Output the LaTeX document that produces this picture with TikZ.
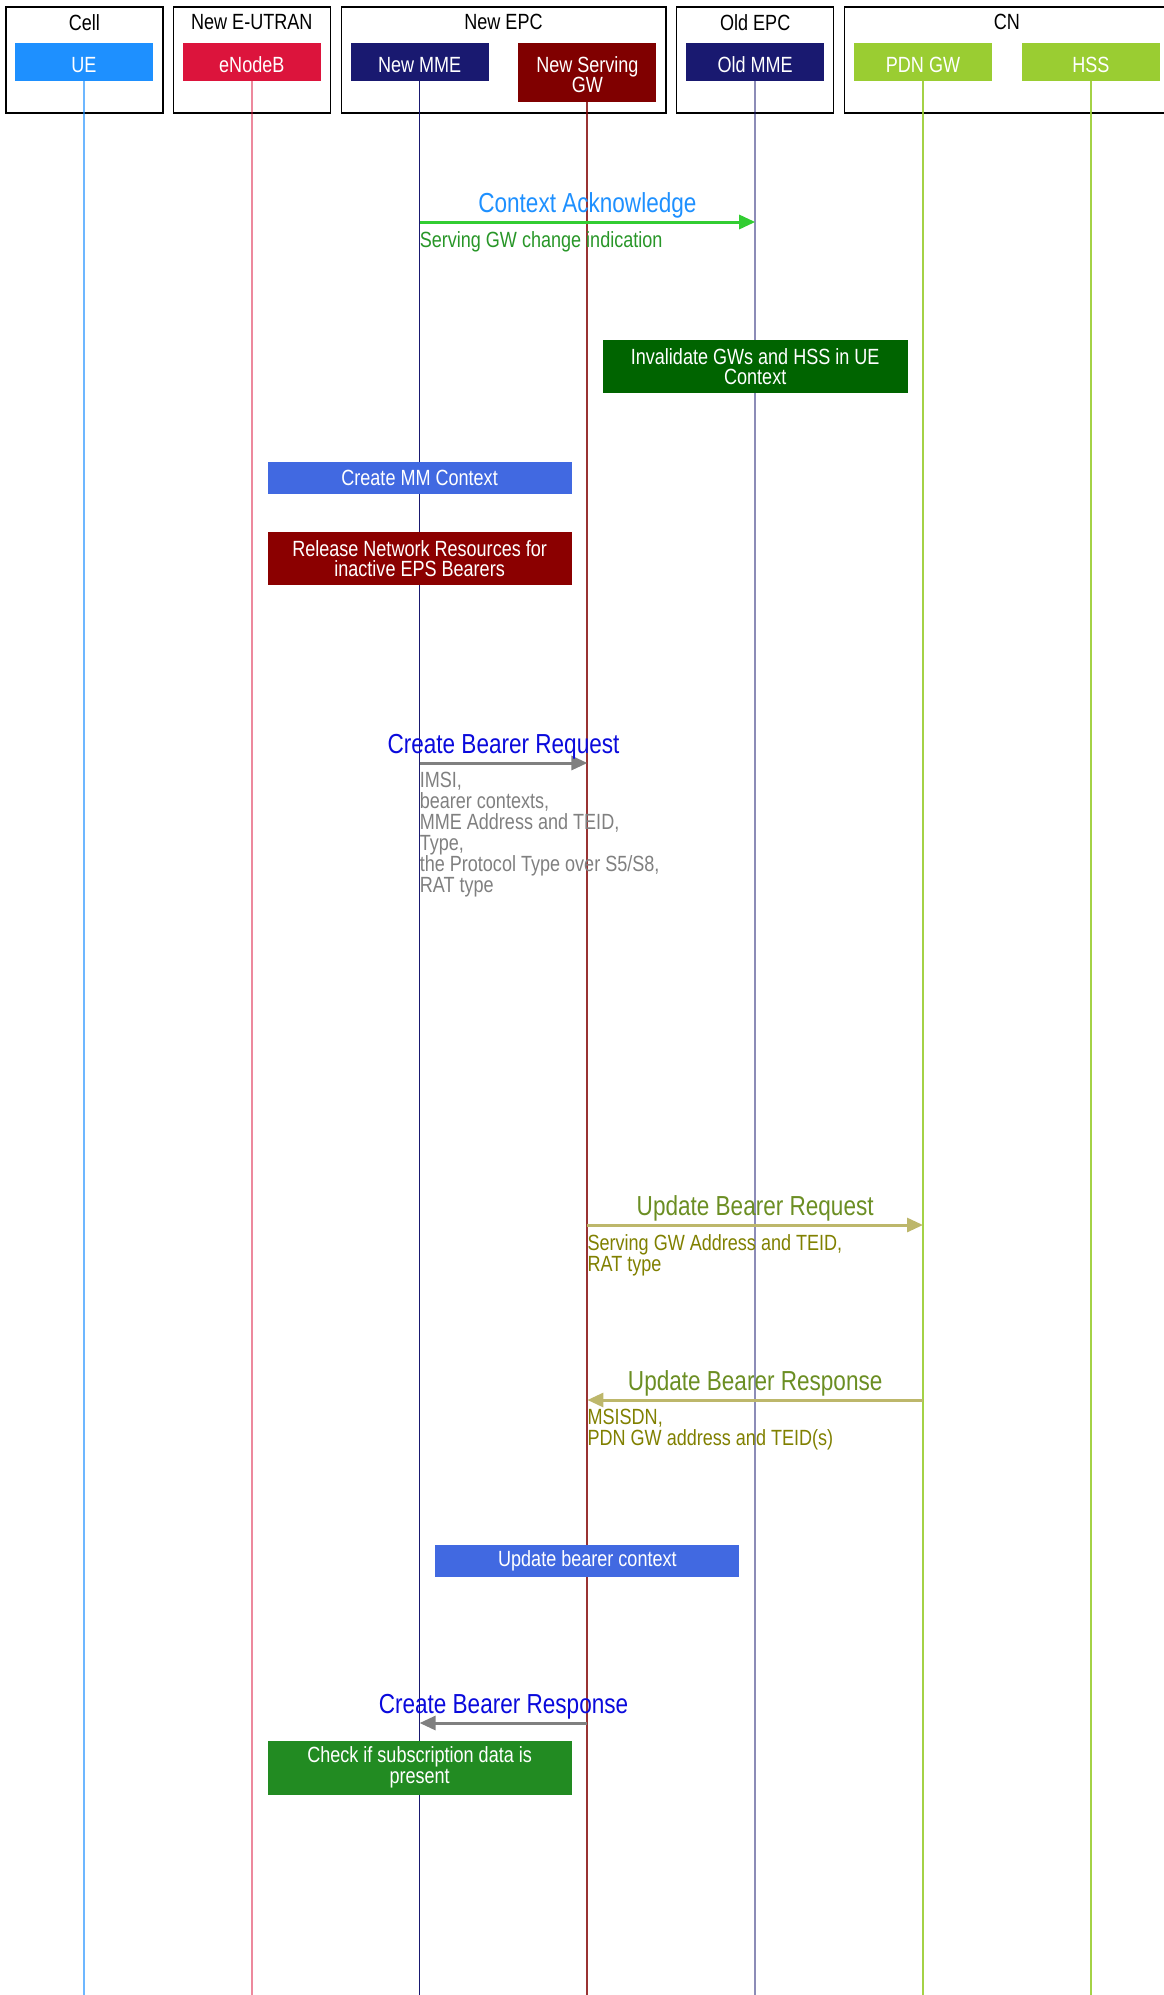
\documentclass[tikz,border=0pt]{standalone}
\usepackage{fontspec}
\setmainfont{Liberation Sans}[FakeStretch=0.82]
\usepackage{tikz}
\usetikzlibrary{arrows.meta, positioning}
\definecolor{azulUE}{RGB}{30,144,255}
\definecolor{carmim}{RGB}{220,20,60}
\definecolor{marinho}{RGB}{25,25,112}
\definecolor{bordo}{RGB}{128,0,0}
\definecolor{verdeAm}{RGB}{154,205,50}
\definecolor{verdeEsc}{RGB}{0,100,0}
\definecolor{verdeFl}{RGB}{34,139,34}
\definecolor{verdeTxt}{RGB}{40,150,40}
\definecolor{verdeLima}{RGB}{50,205,50}
\definecolor{azulReal}{RGB}{65,105,225}
\definecolor{azulMed}{RGB}{10,10,220}
\definecolor{vermEsc}{RGB}{139,0,0}
\definecolor{cinza}{RGB}{128,128,128}
\definecolor{oliva}{RGB}{128,128,0}
\definecolor{olivaEsc}{RGB}{107,142,35}
\definecolor{caqui}{RGB}{189,183,107}

\begin{document}
\begin{tikzpicture}[x=1pt, y=-1pt,
    grupo/.style={draw=black, line width=1.2pt, minimum height=106pt, minimum width=157pt},
    rotulo/.style={font=\fontsize{22}{24}\selectfont, inner sep=2pt},
    ator/.style={text=white, minimum width=138pt, minimum height=38pt, align=center, font=\fontsize{22}{20.5}\selectfont, inner sep=2pt, text height=20pt, text depth=0pt},
    vida/.style={line width=2pt},
    caixa/.style={text=white, minimum width=304pt, minimum height=32pt, align=center, font=\fontsize{22}{20.5}\selectfont, inner sep=2pt},
    titulo/.style={font=\fontsize{27.5}{30}\selectfont, inner sep=2pt},
    corpo/.style={font=\fontsize{22}{21}\selectfont, align=left, inner xsep=0pt, inner ysep=2pt},
    seta/.style={line width=3pt, -{Triangle[length=16pt, width=14pt]}}
  ]
    \clip (0,0) rectangle (1164,1995);
    % grupos
    \node[grupo] (gcell) at (84.4,60) {};
    \node[grupo] (geutran) at (251.8,60) {};
    \node[grupo, minimum width=324.8pt] (gnovo) at (503.5,60) {};
    \node[grupo] (gvelho) at (755.2,60) {};
    \node[grupo, minimum width=324.8pt] (gcn) at (1006.9,60) {};
    \node[rotulo, below=5.5pt of gcell.north] (lcell) {Cell};
    \node[rotulo, below=5.5pt of geutran.north] (leutran) {New E-UTRAN};
    \node[rotulo, below=5.5pt of gnovo.north] (lnovo) {New EPC};
    \node[rotulo, below=5.5pt of gvelho.north] (lvelho) {Old EPC};
    \node[rotulo, below=5.5pt of gcn.north] (lcn) {CN};
    % participantes
    \node[ator, fill=azulUE] (ue) at (84,62) {UE};
    \node[ator, fill=carmim] (enb) at (251.8,62) {eNodeB};
    \node[ator, fill=marinho] (mme) at (419.6,62) {New MME};
    \node[ator, fill=bordo, minimum height=59pt, text height=40.5pt] (sgw) at (587.4,72.5) {New Serving\\GW};
    \node[ator, fill=marinho] (oldmme) at (755.2,62) {Old MME};
    \node[ator, fill=verdeAm] (pgw) at (923,62) {PDN GW};
    \node[ator, fill=verdeAm] (hss) at (1090.8,62) {HSS};
    % linhas de vida
    \coordinate (fim) at (0,1995);
    \draw[vida, azulUE, opacity=0.65] (ue) -- (ue |- fim);
    \draw[vida, carmim, opacity=0.5] (enb) -- (enb |- fim);
    \draw[vida, marinho, line width=1.6pt] (mme) -- (mme |- fim);
    \draw[vida, bordo, opacity=0.8] (sgw) -- (sgw |- fim);
    \draw[vida, marinho, opacity=0.5] (oldmme) -- (oldmme |- fim);
    \draw[vida, verdeAm, opacity=0.9, line width=1.6pt] (pgw) -- (pgw |- fim);
    \draw[vida, verdeAm, opacity=0.9, line width=1.6pt] (hss) -- (hss |- fim);
    % caixas
    \node[caixa, fill=verdeEsc, minimum height=53pt, minimum width=305pt] (inval) at (755.2,366.5) {Invalidate GWs and HSS in UE\\Context};
    \node[caixa, fill=azulReal] (mmctx) at (419.6,478) {Create MM Context};
    \node[caixa, fill=vermEsc, minimum height=53pt] (liberar) at (419.6,558.5) {Release Network Resources for\\inactive EPS Bearers};
    \node[caixa, fill=azulReal] (atualizar) at (587.4,1561) {Update bearer context};
    \node[caixa, fill=verdeFl, minimum height=54pt] (verificar) at (419.6,1767.5) {Check if subscription data is\\present};
    % mensagens
    \coordinate (m1) at (0,222);
    \draw[seta, verdeLima] (mme |- m1) coordinate (m1e) -- node[titulo, above, text=azulUE] (t1) {Context Acknowledge} (oldmme |- m1);
    \node[corpo, text=verdeTxt, below right=7pt and 0pt of m1e] (c1) {Serving GW change indication};
    \coordinate (m5) at (0,763);
    \draw[seta, cinza] (mme |- m5) coordinate (m5e) -- node[titulo, above, text=azulMed] (t5) {Create Bearer Request} (sgw |- m5);
    \node[corpo, text=cinza, below right=7pt and 0pt of m5e] (c5) {IMSI,\\bearer contexts,\\MME Address and TEID,\\Type,\\the Protocol Type over S5/S8,\\RAT type};
    \coordinate (m6) at (0,1225);
    \draw[seta, caqui] (sgw |- m6) coordinate (m6e) -- node[titulo, above, text=olivaEsc] (t6) {Update Bearer Request} (pgw |- m6);
    \node[corpo, text=oliva, below right=7pt and 0pt of m6e] (c6) {Serving GW Address and TEID,\\RAT type};
    \coordinate (m7) at (0,1400);
    \draw[seta, caqui] (pgw |- m7) -- node[titulo, above, text=olivaEsc] (t7) {Update Bearer Response} (sgw |- m7) coordinate (m7e);
    \node[corpo, text=oliva, below right=7pt and 0pt of m7e] (c7) {MSISDN,\\PDN GW address and TEID(s)};
    \coordinate (m9) at (0,1723);
    \draw[seta, cinza] (sgw |- m9) -- node[titulo, above, text=azulMed] (t9) {Create Bearer Response} (mme |- m9);
  \end{tikzpicture}
\end{document}
